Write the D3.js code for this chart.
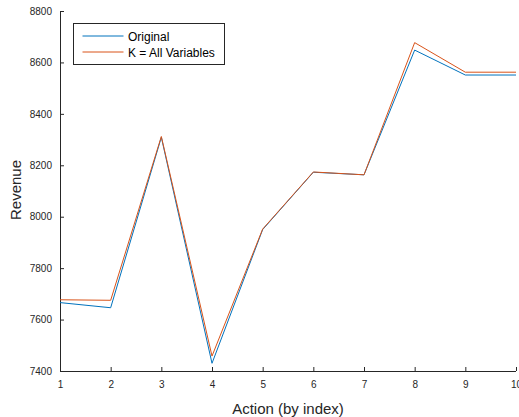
<!DOCTYPE html>
<html>
<head>
<meta charset="utf-8">
<script src="https://cdn.jsdelivr.net/npm/d3@7"></script>
<style>
  html, body { margin: 0; padding: 0; background: #fff; }
  svg { display: block; font-family: "Liberation Sans", Arial, sans-serif; }
</style>
</head>
<body>
<svg id="chart" width="519" height="417"></svg>
<script>
// Revenue per action index, two model variants
const actions = [1, 2, 3, 4, 5, 6, 7, 8, 9, 10];
const original = [7666, 7646, 8309, 7430, 7950, 8173, 8163, 8648, 8551, 8551];
const allVariables = [7677, 7675, 8312, 7458, 7952, 8174, 8163, 8677, 8562, 8562];
const seriesNames = ["Original", "K = All Variables"];
const yTicks = [7400, 7600, 7800, 8000, 8200, 8400, 8600, 8800];
const xTicks = [1, 2, 3, 4, 5, 6, 7, 8, 9, 10];

const colors = ["#0072BD", "#D95319"];
const axisColor = "#262626";

const svg = d3.select("#chart");
const margin = { left: 60, right: 3, top: 11, bottom: 46 };
const W = 519, H = 417;

const x = d3.scaleLinear().domain([1, 10]).range([margin.left, W - margin.right]);
const y = d3.scaleLinear().domain([7400, 8800]).range([H - margin.bottom, margin.top]);

// axes with inward ticks
const xAxis = d3.axisBottom(x).tickValues(xTicks).tickSize(-4).tickPadding(10)
  .tickFormat(d3.format("d"));
const yAxis = d3.axisLeft(y).tickValues(yTicks).tickSize(-4).tickPadding(8)
  .tickFormat(d3.format("d"));

const gx = svg.append("g").attr("transform", `translate(0,${H - margin.bottom})`).call(xAxis);
const gy = svg.append("g").attr("transform", `translate(${margin.left},0)`).call(yAxis);

[gx, gy].forEach(g => {
  g.select(".domain").attr("stroke", axisColor).attr("stroke-width", 1);
  g.selectAll(".tick line").attr("stroke", axisColor);
  g.selectAll(".tick text").attr("fill", axisColor).style("font-size", "10px");
});
gy.select(".domain").attr("d", `M0.5,${y(8800)}V${y(7400)}`);
gx.select(".domain").attr("d", `M${x(1)},0.5H${x(10)}`);

// data lines
const line = d3.line().x((d, i) => x(actions[i])).y(d => y(d));
[original, allVariables].forEach((vals, k) => {
  svg.append("path")
    .datum(vals)
    .attr("d", line)
    .attr("fill", "none")
    .attr("stroke", colors[k])
    .attr("stroke-width", 1);
});

// axis titles
svg.append("text")
  .attr("x", (x(1) + x(10)) / 2)
  .attr("y", 413.5)
  .attr("text-anchor", "middle")
  .attr("fill", axisColor)
  .style("font-size", "15px")
  .text("Action (by index)");

svg.append("text")
  .attr("transform", "translate(21,190) rotate(-90)")
  .attr("text-anchor", "middle")
  .attr("fill", axisColor)
  .style("font-size", "15px")
  .text("Revenue");

// legend
const legend = svg.append("g").attr("transform", "translate(73.5,23.5)");
legend.append("rect")
  .attr("width", 151).attr("height", 41)
  .attr("fill", "#fff").attr("stroke", axisColor).attr("stroke-width", 1);
seriesNames.forEach((name, i) => {
  const ly = 12.5 + i * 16;
  legend.append("line")
    .attr("x1", 9).attr("x2", 50).attr("y1", ly).attr("y2", ly)
    .attr("stroke", colors[i]).attr("stroke-width", 1);
  legend.append("text")
    .attr("x", 54.5).attr("y", ly + 4.5)
    .attr("fill", "#000")
    .style("font-size", "12px")
    .text(name);
});
</script>
</body>
</html>
